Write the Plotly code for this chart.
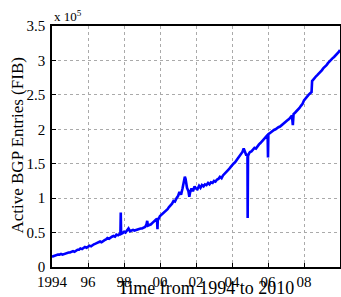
import plotly.graph_objects as go

years = [1994.00,1994.08,1994.17,1994.25,1994.33,1994.42,1994.50,1994.58,1994.67,1994.75,1994.83,1994.92,
1995.00,1995.08,1995.17,1995.25,1995.33,1995.42,1995.50,1995.58,1995.67,1995.75,1995.83,1995.92,
1996.00,1996.08,1996.17,1996.25,1996.33,1996.42,1996.50,1996.58,1996.67,1996.75,1996.83,1996.92,
1997.00,1997.08,1997.17,1997.25,1997.33,1997.42,1997.50,1997.58,1997.67,1997.75,1997.80,1997.82,1997.84,1997.92,
1998.00,1998.08,1998.17,1998.25,1998.33,1998.42,1998.50,1998.58,1998.67,1998.75,1998.83,1998.92,
1999.00,1999.08,1999.17,1999.25,1999.29,1999.33,1999.42,1999.50,1999.58,1999.67,1999.75,1999.83,1999.86,1999.88,1999.92,
2000.00,2000.08,2000.17,2000.25,2000.33,2000.42,2000.50,2000.58,2000.67,2000.75,2000.83,2000.92,
2001.00,2001.08,2001.17,2001.25,2001.33,2001.38,2001.42,2001.50,2001.58,2001.63,2001.67,2001.75,2001.83,2001.92,
2002.00,2002.08,2002.17,2002.25,2002.33,2002.42,2002.50,2002.58,2002.67,2002.75,2002.83,2002.92,
2003.00,2003.08,2003.17,2003.25,2003.33,2003.42,2003.50,2003.58,2003.67,2003.75,2003.83,2003.92,
2004.00,2004.08,2004.17,2004.25,2004.33,2004.42,2004.50,2004.58,2004.65,2004.72,2004.80,2004.86,2004.87,2004.89,2004.95,
2005.00,2005.08,2005.17,2005.25,2005.33,2005.42,2005.50,2005.58,2005.67,2005.75,2005.83,2005.92,2005.98,
2006.00,2006.02,2006.08,2006.17,2006.25,2006.33,2006.42,2006.50,2006.58,2006.67,2006.75,2006.83,2006.92,
2007.00,2007.08,2007.17,2007.25,2007.33,2007.38,2007.42,2007.50,2007.58,2007.67,2007.75,2007.83,2007.92,
2008.00,2008.08,2008.17,2008.25,2008.33,2008.42,2008.45,2008.50,2008.58,2008.67,2008.75,2008.83,2008.92,
2009.00,2009.08,2009.17,2009.25,2009.33,2009.42,2009.50,2009.58,2009.67,2009.75,2009.83,2009.92,2010.00]

fib_entries_1e5 = [0.15,0.16,0.17,0.17,0.18,0.18,0.19,0.18,0.19,0.19,0.20,0.21,
0.21,0.22,0.23,0.22,0.24,0.25,0.25,0.27,0.26,0.28,0.29,0.28,
0.30,0.31,0.30,0.32,0.33,0.34,0.35,0.36,0.37,0.36,0.38,0.39,
0.40,0.42,0.41,0.43,0.44,0.45,0.44,0.47,0.46,0.48,0.47,0.79,0.48,0.49,
0.51,0.50,0.53,0.56,0.52,0.53,0.54,0.53,0.54,0.55,0.55,0.56,
0.56,0.57,0.58,0.62,0.67,0.60,0.61,0.62,0.64,0.66,0.68,0.70,0.55,0.71,0.70,
0.74,0.76,0.78,0.79,0.82,0.84,0.87,0.89,0.92,0.96,0.95,1.00,
1.03,1.09,1.05,1.14,1.22,1.31,1.28,1.15,1.10,1.02,1.08,1.14,1.10,1.17,
1.14,1.13,1.18,1.15,1.19,1.17,1.20,1.19,1.22,1.20,1.23,1.22,
1.25,1.24,1.27,1.28,1.31,1.29,1.33,1.35,1.37,1.39,1.42,1.45,
1.48,1.50,1.52,1.55,1.58,1.60,1.63,1.67,1.72,1.68,1.62,1.64,0.71,1.61,1.65,
1.67,1.68,1.71,1.73,1.72,1.76,1.78,1.80,1.83,1.85,1.87,1.90,1.92,
1.59,1.93,1.94,1.96,1.97,1.99,2.00,2.02,2.03,2.04,2.06,2.07,2.09,
2.11,2.13,2.15,2.17,2.20,2.06,2.22,2.24,2.26,2.28,2.31,2.34,2.37,
2.42,2.45,2.48,2.50,2.52,2.54,2.70,2.72,2.74,2.77,2.79,2.81,2.84,
2.86,2.89,2.91,2.93,2.96,2.99,3.01,3.03,3.05,3.07,3.09,3.12,3.15]

x_tick_vals = [1994, 1996, 1998, 2000, 2002, 2004, 2006, 2008, 2010]
x_tick_text = ["1994", "96", "98", "00", "02", "04", "06", "08", "10"]
y_tick_vals = [0, 0.5, 1, 1.5, 2, 2.5, 3, 3.5]
y_tick_text = ["0", "0.5", "1", "1.5", "2", "2.5", "3", "3.5"]

font = "Liberation Serif, Times New Roman, serif"

fig = go.Figure()
fig.add_trace(go.Scatter(x=years, y=fib_entries_1e5, mode="lines",
                         line=dict(color="#0000FF", width=2.6), showlegend=False,
                         cliponaxis=False))

axis_common = dict(showline=True, linecolor="black", linewidth=1.6, mirror=True,
                   ticks="inside", ticklen=4, tickcolor="black",
                   showgrid=True, gridcolor="#AAAAAA", griddash="dot", gridwidth=1,
                   zeroline=False, automargin=False,
                   tickfont=dict(family=font, size=15, color="black"))

fig.update_layout(
    width=341, height=297,
    margin=dict(l=52, r=1, t=26, b=30),
    paper_bgcolor="white", plot_bgcolor="white",
    font=dict(family=font, color="black"),
    xaxis=dict(range=[1994, 2010], tickvals=x_tick_vals, ticktext=x_tick_text,
               ticklabelstandoff=0, **axis_common),
    yaxis=dict(range=[0, 3.5], tickvals=y_tick_vals, ticktext=y_tick_text,
               ticklabelstandoff=2, **axis_common),
    annotations=[
        dict(text="x 10<sup>5</sup>", xref="paper", yref="paper", x=0.0, y=1.0,
             xanchor="left", yanchor="bottom", showarrow=False,
             font=dict(family=font, size=13, color="black")),
        dict(text="Time from 1994 to 2010", xref="paper", yref="paper", x=0.533, y=-0.139,
             xanchor="center", yanchor="bottom", showarrow=False,
             font=dict(family=font, size=18, color="black")),
        dict(text="Active BGP Entries (FIB)", xref="paper", yref="paper", x=-0.118, y=0.504,
             xanchor="center", yanchor="middle", textangle=-90, showarrow=False,
             font=dict(family=font, size=17, color="black")),
    ],
)

fig.write_html("out.html", config={"displayModeBar": False},
               post_script="document.body.style.margin='0';document.body.style.overflow='hidden';")
